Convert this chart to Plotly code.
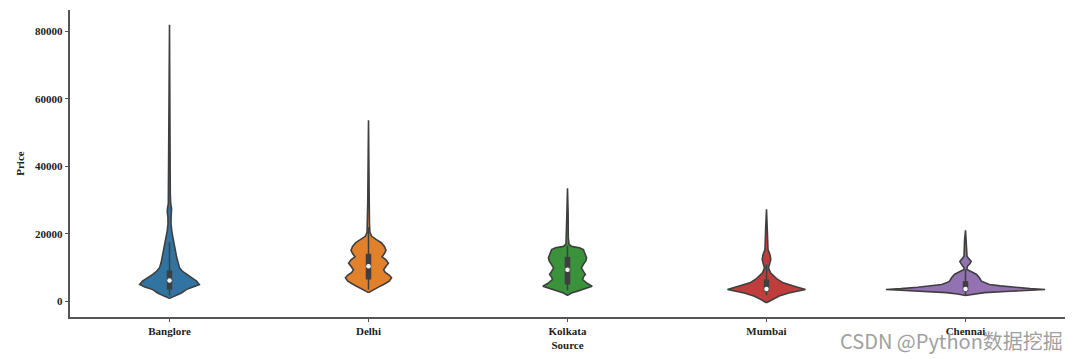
import plotly.graph_objects as go

# ---------------- data ----------------
categories = ["Banglore", "Delhi", "Kolkata", "Mumbai", "Chennai"]
colors = ["#3274a1", "#e1812c", "#3a923a", "#c03d3e", "#9372b2"]

# violin outlines: price levels and relative density (1.0 = widest violin)
banglore_price = [900, 1500, 2500, 3500, 4300, 5000, 6000, 7000, 8000, 9000, 10000, 11500,
                  13300, 15000, 17000, 19200, 21000, 23000, 25000, 26500, 27500, 29000,
                  32000, 40000, 60000, 82000]
banglore_dens = [0.0, 0.06, 0.15, 0.21, 0.31, 0.375, 0.34, 0.275, 0.21, 0.16, 0.125, 0.105,
                 0.088, 0.075, 0.056, 0.041, 0.028, 0.019, 0.02, 0.028, 0.026, 0.015,
                 0.01, 0.008, 0.006, 0.0]

delhi_price = [2600, 3500, 4300, 5000, 6000, 7000, 7800, 8600, 9400, 10400, 11300, 12300,
               13200, 14200, 15200, 16300, 17400, 18300, 19300, 20500, 23000, 30000, 53700]
delhi_dens = [0.0, 0.06, 0.13, 0.19, 0.26, 0.29, 0.26, 0.21, 0.19, 0.22, 0.25, 0.22,
              0.17, 0.2, 0.22, 0.2, 0.16, 0.1, 0.04, 0.018, 0.012, 0.009, 0.0]

kolkata_price = [1770, 2500, 3050, 3800, 4520, 5300, 6490, 7200, 7960, 8900, 9930, 11000,
                 12000, 12890, 14000, 15340, 15900, 16300, 17000, 19000, 26000, 33500]
kolkata_dens = [0.0, 0.05, 0.125, 0.225, 0.31, 0.25, 0.19, 0.2, 0.225, 0.2, 0.175, 0.2,
                0.23, 0.24, 0.225, 0.2, 0.15, 0.05, 0.019, 0.01, 0.008, 0.0]

mumbai_price = [-400, 600, 1570, 2500, 3540, 4500, 5510, 6500, 7480, 8460, 9930, 10910,
                12440, 13860, 15340, 18000, 22000, 27300]
mumbai_dens = [0.0, 0.075, 0.16, 0.28, 0.49, 0.35, 0.21, 0.14, 0.096, 0.05, 0.025, 0.038,
               0.054, 0.044, 0.019, 0.015, 0.01, 0.0]

chennai_price = [1770, 2200, 2600, 3000, 3300, 3540, 3800, 4200, 4600, 5000, 5500, 6000,
                 7000, 7500, 8000, 8500, 9000, 9440, 10000, 10420, 11200, 11900, 12600,
                 13370, 15000, 18000, 21040]
chennai_dens = [0.0, 0.1, 0.24, 0.56, 0.81, 1.0, 0.81, 0.6, 0.44, 0.3, 0.24, 0.2,
                0.175, 0.16, 0.14, 0.1, 0.05, 0.019, 0.019, 0.025, 0.056, 0.071, 0.044,
                0.019, 0.015, 0.012, 0.0]

prices = [banglore_price, delhi_price, kolkata_price, mumbai_price, chennai_price]
densities = [banglore_dens, delhi_dens, kolkata_dens, mumbai_dens, chennai_dens]

# inner box statistics
q1 = [3500, 6500, 5000, 3000, 3000]
median = [6200, 10400, 9400, 3700, 3700]
q3 = [9200, 14100, 13200, 6500, 6000]
whisker_lo = [1800, 3500, 3300, 1800, 1800]
whisker_hi = [17500, 22000, 16500, 11000, 9500]

y_ticks = [0, 20000, 40000, 60000, 80000]

# ---------------- figure ----------------
HALF_MAX = 0.4
GRAY = "#3f3f3f"
fig = go.Figure()

for i, cat in enumerate(categories):
    p = prices[i]
    d = densities[i]
    xs = [i + HALF_MAX * v for v in d] + [i - HALF_MAX * v for v in reversed(d)]
    ys = list(p) + list(reversed(p))
    xs.append(xs[0])
    ys.append(ys[0])
    fig.add_trace(go.Scatter(x=xs, y=ys, mode="lines", fill="toself",
                             fillcolor=colors[i], line=dict(color=GRAY, width=1.6),
                             hoverinfo="skip", showlegend=False))
    # whisker
    fig.add_trace(go.Scatter(x=[i, i], y=[whisker_lo[i], whisker_hi[i]], mode="lines",
                             line=dict(color=GRAY, width=1.5), showlegend=False,
                             hoverinfo="skip"))
    # box
    fig.add_trace(go.Scatter(x=[i, i], y=[q1[i], q3[i]], mode="lines",
                             line=dict(color=GRAY, width=5.5), showlegend=False,
                             hoverinfo="skip"))
    # median
    fig.add_trace(go.Scatter(x=[i], y=[median[i]], mode="markers",
                             marker=dict(color="white", size=4.5, line=dict(width=0)),
                             showlegend=False, name=cat))

font_family = "Liberation Serif"
fig.update_layout(
    width=1080, height=359,
    margin=dict(l=70, r=15, t=10, b=42, autoexpand=False),
    plot_bgcolor="white", paper_bgcolor="white",
    font=dict(family=font_family, size=11, color="#222222"),
    showlegend=False,
)
fig.update_xaxes(
    range=[-0.5, 4.5], tickmode="array", tickvals=list(range(len(categories))),
    ticktext=["<b>%s</b>" % c for c in categories],
    showgrid=False, zeroline=False, showline=True, linecolor="#555555", linewidth=1.5,
    ticks="outside", ticklen=3.5, tickwidth=1.2, tickcolor="#555555",
    tickfont=dict(family=font_family, size=11, color="#222222"),
    title=dict(text="<b>Source</b>", font=dict(family=font_family, size=11, color="#222222"),
               standoff=5),
)
fig.update_yaxes(
    range=[-4620, 86360], tickmode="array", tickvals=y_ticks,
    ticktext=["<b>%d</b>" % v for v in y_ticks],
    showgrid=False, zeroline=False, showline=True, linecolor="#555555", linewidth=1.5,
    ticks="outside", ticklen=3.5, tickwidth=1.2, tickcolor="#555555",
    tickfont=dict(family=font_family, size=11, color="#222222"),
    title=dict(text="<b>Price</b>", font=dict(family=font_family, size=11, color="#222222"),
               standoff=8),
)

fig.add_annotation(text="CSDN @Python数据挖掘", xref="paper", yref="paper",
                   x=1.0, y=0, xanchor="right", yanchor="middle", yshift=-23,
                   showarrow=False,
                   font=dict(family="Noto Sans CJK SC", size=20, color="#a0a0a0"))

fig.write_html("out.html")
